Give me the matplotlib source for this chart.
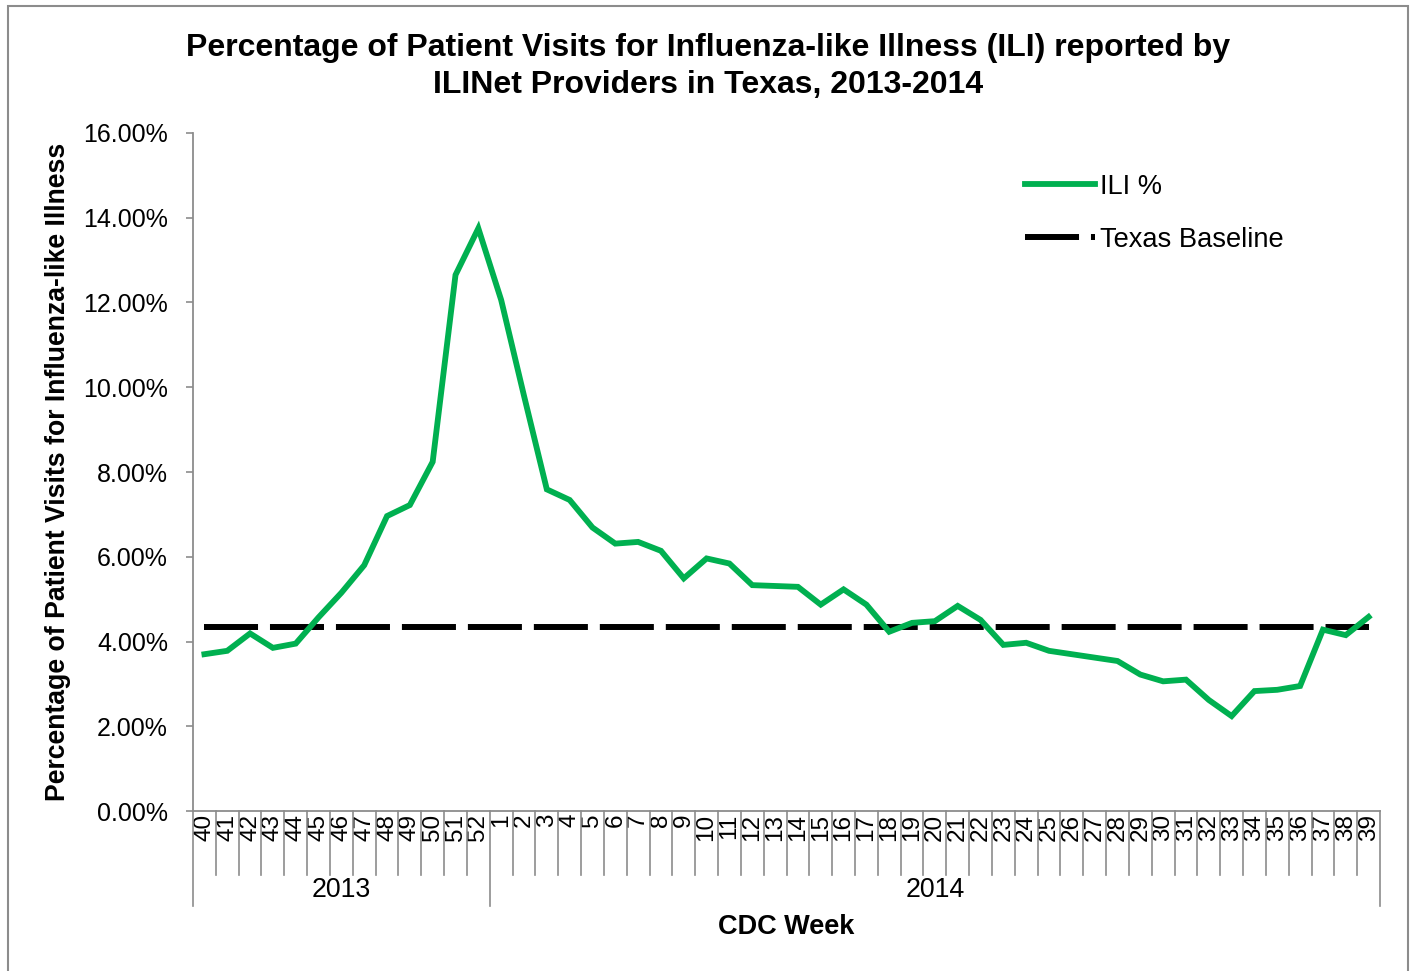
import matplotlib
matplotlib.use('Agg')
import matplotlib.pyplot as plt
from matplotlib.patches import Rectangle
from matplotlib.ticker import FuncFormatter
import matplotlib.transforms as mtransforms

plt.rcParams['font.family'] = ['Liberation Sans', 'DejaVu Sans']
plt.rcParams['lines.scale_dashes'] = False

weeks_2013 = [str(w) for w in range(40, 53)]
weeks_2014 = [str(w) for w in range(1, 40)]
week_labels = weeks_2013 + weeks_2014
years = ['2013', '2014']

ili_pct = [3.70, 3.78, 4.19, 3.85, 3.95, 4.57, 5.15, 5.80, 6.96, 7.22, 8.24, 12.65, 13.75,
           12.06, 9.80, 7.59, 7.34, 6.69, 6.31, 6.35, 6.14, 5.49, 5.96, 5.84, 5.33, 5.31,
           5.29, 4.87, 5.23, 4.87, 4.23, 4.44, 4.48, 4.84, 4.51, 3.92, 3.97, 3.78, 3.70,
           3.62, 3.54, 3.22, 3.06, 3.10, 2.62, 2.24, 2.83, 2.86, 2.95, 4.28, 4.15, 4.58]
baseline_pct = [4.35] * len(week_labels)

title_lines = ['Percentage of Patient Visits for Influenza-like Illness (ILI) reported by',
               'ILINet Providers in Texas, 2013-2014']

GREEN = '#00b050'
GRAY = '#8c8c8c'

fig = plt.figure(figsize=(14.14, 9.71), dpi=100)
ax = fig.add_axes([193 / 1414, 1 - 811 / 971, 1187 / 1414, 678 / 971])

x = list(range(len(week_labels)))
ax.plot(x, ili_pct, color=GREEN, lw=4.2, solid_joinstyle='miter', label='ILI %', zorder=3)
ax.plot(x, baseline_pct, color='black', lw=4.3, dashes=(38.9, 8.6),
        dash_capstyle='butt', label='Texas Baseline', zorder=2)

ax.set_xlim(-0.5, len(week_labels) - 0.5)
ax.set_ylim(0, 16)
ax.set_yticks(range(0, 17, 2))
ax.yaxis.set_major_formatter(FuncFormatter(lambda v, p: '%.2f%%' % v))

for s in ['top', 'right']:
    ax.spines[s].set_visible(False)
for s in ['left', 'bottom']:
    ax.spines[s].set_color(GRAY)
    ax.spines[s].set_linewidth(1.3)

ax.tick_params(axis='y', length=5, width=1.2, color=GRAY, pad=13, labelsize=18)
ax.set_xticks(x)
ax.set_xticklabels(week_labels, rotation=90, fontsize=17.5)
ax.tick_params(axis='x', length=0, pad=2)

# category separators below the axis
trans = mtransforms.blended_transform_factory(ax.transData, ax.transAxes)
tick_h = 64 / 678
group_h = 95 / 678
for i in range(len(week_labels) + 1):
    b = i - 0.5
    h = group_h if b in (-0.5, len(weeks_2013) - 0.5, len(week_labels) - 0.5) else tick_h
    ax.plot([b, b], [0, -h], transform=trans, color=GRAY, lw=1.2, clip_on=False)

ax.text((len(weeks_2013) - 1) / 2, -79 / 678, years[0], transform=trans,
        ha='center', va='center', fontsize=19.3)
ax.text(len(weeks_2013) + (len(weeks_2014) - 1) / 2, -79 / 678, years[1], transform=trans,
        ha='center', va='center', fontsize=19.3)

ax.text(0.5, -116 / 678, 'CDC Week', transform=ax.transAxes, ha='center', va='center',
        fontsize=19.5, fontweight='bold')
fig.text(58 / 1414, 1 - 472 / 971, 'Percentage of Patient Visits for Influenza-like Illness',
         rotation=90, ha='center', va='center', fontsize=19.2, fontweight='bold')
fig.text(708 / 1414, 1 - 48 / 971, title_lines[0],
         ha='center', va='center', fontsize=23, fontweight='bold')
fig.text(708 / 1414, 1 - 85 / 971, title_lines[1],
         ha='center', va='center', fontsize=23, fontweight='bold')

ax.legend(loc='upper left', bbox_to_anchor=((1025 - 193) / 1187, (811 - 174) / 678),
          frameon=False, fontsize=19.6, handlelength=2.57, handletextpad=0.2,
          labelspacing=0.98, borderpad=0, borderaxespad=0)

fig.patches.append(Rectangle((8 / 1414, -0.02), 1400 / 1414, 1.02 - 6 / 971,
                             transform=fig.transFigure, fill=False, edgecolor=GRAY,
                             lw=1.5, zorder=0))

fig.savefig('out.png', dpi=100)
